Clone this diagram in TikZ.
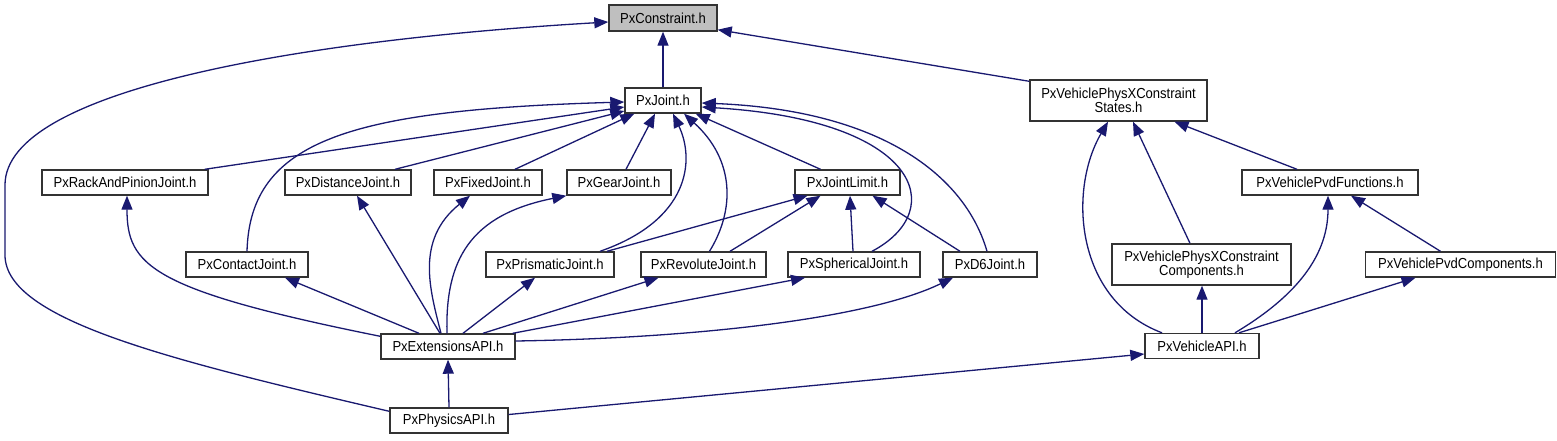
\documentclass[tikz,border=0pt]{standalone}
\usepackage{fontspec}
\newfontfamily\lblfont[FakeStretch=0.9]{Liberation Sans}
\usetikzlibrary{arrows.meta}
\definecolor{edgeblue}{HTML}{191970}
\definecolor{boxgray}{HTML}{BFBFBF}
\begin{document}
\begin{tikzpicture}[x=1pt,y=-1pt,
  box/.style={draw=black!80, line width=1.4pt, fill=white, minimum height=25pt, inner sep=0pt,
    font=\lblfont\fontsize{14.5}{14}\selectfont, align=center},
  edge/.style={draw=edgeblue, line width=1.3pt, -{Triangle[length=14pt,width=11pt]}}
]
\fill[white] (0,0) rectangle (1557,440);
\useasboundingbox (0,0) rectangle (1557,440);

% nodes
\node[box, fill=boxgray, minimum width=108pt, minimum height=26pt] (constraint) at (663,18) {PxConstraint.h};
\node[box, minimum width=76pt] (joint) at (663,100.5) {PxJoint.h};
\node[box, minimum width=177pt, minimum height=41pt] (states) at (1118.5,100.5) {PxVehiclePhysXConstraint\\States.h};
\node[box, minimum width=166pt] (rack) at (125,182.5) {PxRackAndPinionJoint.h};
\node[box, minimum width=126pt] (distance) at (348,182.5) {PxDistanceJoint.h};
\node[box, minimum width=108pt] (fixed) at (488,182.5) {PxFixedJoint.h};
\node[box, minimum width=104pt] (gear) at (619,182.5) {PxGearJoint.h};
\node[box, minimum width=105pt] (limit) at (847.5,182.5) {PxJointLimit.h};
\node[box, minimum width=176pt] (pvdfun) at (1330,182.5) {PxVehiclePvdFunctions.h};
\node[box, minimum width=122pt] (contact) at (247,264.5) {PxContactJoint.h};
\node[box, minimum width=128pt] (prismatic) at (550,264.5) {PxPrismaticJoint.h};
\node[box, minimum width=125pt] (revolute) at (703.5,264.5) {PxRevoluteJoint.h};
\node[box, minimum width=132pt] (spherical) at (854,264.5) {PxSphericalJoint.h};
\node[box, minimum width=94pt] (d6) at (990,264.5) {PxD6Joint.h};
\node[box, minimum width=179pt, minimum height=41pt] (comps) at (1201.5,264.5) {PxVehiclePhysXConstraint\\Components.h};
\node[box, minimum width=190pt] (pvdcomp) at (1460.5,264.5) {PxVehiclePvdComponents.h};
\node[box, minimum width=134pt] (ext) at (448,346.5) {PxExtensionsAPI.h};
\node[box, minimum width=114pt] (vapi) at (1202,346) {PxVehicleAPI.h};
\node[box, minimum width=118pt] (physics) at (449,420.5) {PxPhysicsAPI.h};

% edges to PxConstraint.h
\draw[edge] ([yshift=-4pt]physics.north west) .. controls (170,360) and (5,320) .. (5,255)
  -- (5,185) .. controls (5,90) and (300,40) .. ([yshift=-4pt]constraint.west);
\draw[edge] (joint.north) -- (constraint.south);
\draw[edge] ([yshift=-2pt]states.north west) -- ([yshift=2pt]constraint.south east);

% edges to PxJoint.h
\draw[edge] ([xshift=-4pt]rack.north east) -- ([yshift=-6.5pt]joint.west);
\draw[edge] (contact.north) .. controls (250,140) and (350,110) .. ([yshift=-1.5pt]joint.west);
\draw[edge] ([xshift=47pt]distance.north) -- ([yshift=-10.5pt]joint.west);
\draw[edge] ([xshift=27pt]fixed.north) -- ([xshift=10pt]joint.south west);
\draw[edge] ([xshift=7pt]gear.north) -- ([xshift=-8pt]joint.south);
\draw[edge] ([xshift=50pt]prismatic.north) .. controls (690,220) and (695,160) .. ([xshift=10pt]joint.south);
\draw[edge] ([xshift=6pt]revolute.north) .. controls (735,210) and (735,160) .. ([xshift=21pt]joint.south);
\draw[edge] ([xshift=-27pt]limit.north) -- ([xshift=-6pt]joint.south east);
\draw[edge] ([xshift=18pt]spherical.north) .. controls (950,210) and (920,120) .. ([yshift=-6.5pt]joint.east);
\draw[edge] ([xshift=-3pt]d6.north) .. controls (965,175) and (880,110) .. ([yshift=-2.5pt]joint.east);

% edges to PxJointLimit.h
\draw[edge] ([xshift=57pt]prismatic.north) -- ([xshift=-40pt]limit.south);
\draw[edge] ([xshift=26.5pt]revolute.north) -- ([xshift=-27pt]limit.south);
\draw[edge] ([xshift=-1pt]spherical.north) -- ([xshift=2.5pt]limit.south);
\draw[edge] ([xshift=-30pt]d6.north) -- ([xshift=25pt]limit.south);

% edges from PxExtensionsAPI.h
\draw[edge] ([yshift=-3pt]ext.north west) .. controls (150,290) and (127,265) .. ([xshift=2pt]rack.south);
\draw[edge] ([xshift=-29pt]ext.north) -- ([xshift=38pt]contact.south);
\draw[edge] ([xshift=-8pt]ext.north) -- ([xshift=9pt]distance.south);
\draw[edge] ([xshift=-7pt]ext.north) .. controls (430,290) and (415,240) .. ([xshift=-18pt]fixed.south);
\draw[edge] ([xshift=-1pt]ext.north) .. controls (445,260) and (470,215) .. (gear.south west);
\draw[edge] ([xshift=15pt]ext.north) -- ([xshift=-15pt]prismatic.south);
\draw[edge] ([xshift=35pt]ext.north) -- ([xshift=-45pt]revolute.south);
\draw[edge] ([xshift=-3pt]ext.north east) -- ([xshift=-49pt]spherical.south);
\draw[edge] ([yshift=5.5pt]ext.east) .. controls (700,338) and (870,318) .. ([xshift=-37pt]d6.south);
\draw[edge] (physics.north) -- (ext.south);

% vehicle side
\draw[edge] ([yshift=6pt]physics.east) -- ([yshift=-8pt]vapi.west);
\draw[edge] ([xshift=-40pt]vapi.north) .. controls (1075,300) and (1068,190) .. ([xshift=-10.5pt]states.south);
\draw[edge] ([xshift=-11.5pt]comps.north) -- ([xshift=14.5pt]states.south);
\draw[edge] ([xshift=-33pt]pvdfun.north) -- ([xshift=56pt]states.south);
\draw[edge] (vapi.north) -- (vapi.north |- comps.south);
\draw[edge] ([xshift=33pt]vapi.north) .. controls (1290,300) and (1328,260) .. ([xshift=-2pt]pvdfun.south);
\draw[edge] ([xshift=-20pt]pvdcomp.north) -- ([xshift=21pt]pvdfun.south);
\draw[edge] ([xshift=37pt]vapi.north) -- ([xshift=-45pt]pvdcomp.south);
\end{tikzpicture}
\end{document}
